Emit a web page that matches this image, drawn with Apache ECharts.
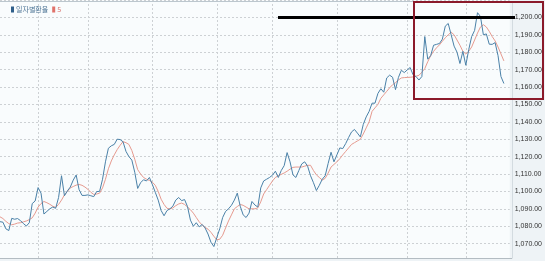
<!DOCTYPE html>
<html><head><meta charset="utf-8">
<script src="https://cdn.jsdelivr.net/npm/echarts@6/dist/echarts.min.js"></script>
<style>html,body{margin:0;padding:0;background:#eef3f6;}#c{width:545px;height:261px;}</style>
</head><body><div id="c"></div>
<script>
const SERIES_NAMES = ['일자별환율', '5'];
const rate = [1082.6,1082.3,1078.5,1077.5,1084.5,1084,1084.4,1083.2,1081.5,1080.1,
1082,1093,1094.5,1102.2,1099,1087,1088.5,1090,1091,1090.3,
1096.5,1109,1097.5,1100.3,1102.5,1106.5,1109.4,1101,1097.7,1097.7,
1098,1097.5,1097,1099.9,1100,1107,1117,1124.8,1126.2,1127,
1130,1129.8,1128.5,1123,1120,1118,1111,1101.7,1105,1106.7,
1106,1108,1104,1099.5,1095,1089,1086,1089,1090,1091.5,
1095,1096.5,1094.7,1095.3,1091.3,1083.5,1080,1082,1079.6,1081,
1079,1075.5,1070.8,1068.3,1073.5,1078.5,1085,1088.5,1090,1092,
1095,1099,1091.5,1086.5,1085,1087.5,1094.2,1092.2,1091,1102,
1106,1107,1108,1109.3,1111.6,1108,1112,1114.8,1122.3,1117,
1109.5,1108,1112,1115.8,1117,1114.5,1109,1105,1100.5,1103.5,
1107,1109,1116,1122.5,1117,1121,1125,1124.6,1127.5,1131,
1134.2,1135.6,1133.5,1131.3,1138.5,1142.8,1146,1150.7,1150.7,1156.3,
1159,1157,1165.2,1166.8,1165.6,1158.5,1165.5,1169.6,1168.3,1169.8,
1171.2,1167,1166,1164,1166,1189,1176,1178,1184,1184.5,
1185,1187.5,1195,1196.5,1190,1183.5,1180,1173.5,1180.5,1172.5,
1181.5,1189,1192.5,1202.7,1200.5,1190,1190.5,1184.6,1184.5,1185.5,
1178,1166,1162];
const ma5 = [1085.4,1084.4,1082.8,1081.5,1080.8,1081.2,1081.8,1082,1082.5,1083,
1083.8,1084.8,1087.5,1091,1093,1094.2,1093.5,1092.6,1091.5,1090.8,
1092.5,1095,1098,1100,1102,1102.8,1103.6,1104,1103.5,1102.5,
1101.2,1099.5,1098.3,1098.5,1099,1102,1107,1113,1117.5,1121,
1124,1126.5,1128.6,1128,1127,1123.5,1118.5,1112.5,1110,1108,
1107,1106.3,1105.3,1103.5,1100,1095.5,1092.5,1090.3,1089.9,1090.5,
1091.8,1092.8,1093.3,1092.5,1091,1089.5,1087.5,1085,1082.5,1080.7,
1079.3,1078.3,1076.5,1074.2,1072.2,1072.5,1074.8,1079,1083,1086.5,
1090,1091.3,1092.5,1092,1091,1090,1090,1090,1090.5,1094,
1098.5,1101,1103.5,1106,1108,1109,1109.8,1110.6,1111.6,1112.8,
1113.8,1114,1114,1114,1114.5,1115,1115,1112,1109.5,1108,
1106.5,1107.5,1110.5,1114,1115.5,1117,1118.8,1121,1123,1125,
1127,1128,1129,1130,1133,1136.5,1140,1146,1148,1150,
1153.5,1155.5,1157.5,1159.5,1161.3,1162.5,1164,1165.2,1165.4,1165.5,
1165.6,1165.8,1166.2,1166.7,1168.5,1170.6,1174.5,1178,1180.5,1182.5,
1184.2,1186.3,1188.3,1190,1191.5,1190,1187,1184,1180.5,1179,
1180.5,1183,1187,1191,1194.5,1195.8,1194.5,1192,1189,1186.5,
1183,1179,1175];
const SLOT_COUNT = 175;               // trading-day slots on the x axis
const MONTH_GRID_IDX = [13,30,52,74,93,115,139,159];
const Y_MIN = 1060, Y_MAX = 1210, Y_STEP = 10;
const REF_LEVEL = 1200;

const categories = Array.from({length: SLOT_COUNT}, (_, i) => String(i + 1));

const chart = echarts.init(document.getElementById('c'), null, {renderer: 'canvas'});
chart.setOption({
  animation: false,
  backgroundColor: '#eef3f6',
  grid: {left: 0, right: 33, top: -2.385, bottom: -12.385, show: true, backgroundColor: '#f9fcfd', borderWidth: 0},
  legend: {
    left: 6, top: 1, icon: 'rect', itemWidth: 3, itemHeight: 6, itemGap: 4,
    textStyle: {fontSize: 7, fontFamily: 'Noto Sans CJK KR', padding: [0,0,0,-3]},
    data: [
      {name: SERIES_NAMES[0], textStyle: {color: '#4f7596'}},
      {name: SERIES_NAMES[1], textStyle: {color: '#d9706a'}}
    ]
  },
  xAxis: {
    type: 'category', data: categories, boundaryGap: false,
    axisLine: {show: false}, axisTick: {show: false}, axisLabel: {show: false},
    splitLine: {show: true, interval: (idx) => MONTH_GRID_IDX.includes(idx),
      lineStyle: {color: '#cdd1d4', type: [2, 2], width: 1}}
  },
  yAxis: {
    type: 'value', position: 'right', min: Y_MIN, max: Y_MAX, interval: Y_STEP,
    axisLine: {show: false}, axisTick: {show: false},
    axisLabel: {show: true, margin: 5, fontSize: 7, color: '#333',
      fontFamily: 'Liberation Sans, Arial, sans-serif',
      showMinLabel: false, showMaxLabel: false,
      formatter: (v) => v.toLocaleString('en-US', {minimumFractionDigits: 2, maximumFractionDigits: 2})},
    splitLine: {show: true, lineStyle: {color: '#cdd1d4', type: [2, 2], width: 1}}
  },
  series: [
    {name: SERIES_NAMES[0], type: 'line', data: rate, showSymbol: false, symbol: 'none',
      lineStyle: {color: '#4a81a8', width: 1}, itemStyle: {color: '#2f5f8a'}, z: 3},
    {name: SERIES_NAMES[1], type: 'line', data: ma5, showSymbol: false, symbol: 'none',
      lineStyle: {color: '#e69a8f', width: 1}, itemStyle: {color: '#e0726a'}, z: 2}
  ]
});

// frame lines of the plot area and annotation overlays
const yRef = chart.convertToPixel({yAxisIndex: 0}, REF_LEVEL);
chart.setOption({
  graphic: [
    {type: 'rect', z: 90, silent: true, shape: {x: 0, y: 258.5, width: 545, height: 5}, style: {fill: '#eef3f6'}},
    {type: 'line', z: 91, shape: {x1: 0, y1: 1.5, x2: 512, y2: 1.5}, style: {stroke: '#bcc7ce', lineWidth: 1}},
    {type: 'line', z: 91, shape: {x1: 0, y1: 258.5, x2: 512, y2: 258.5}, style: {stroke: '#b3bcc2', lineWidth: 1}},
    {type: 'line', z: 91, shape: {x1: 512.5, y1: 1.5, x2: 512.5, y2: 258.5}, style: {stroke: '#d3dbe0', lineWidth: 1}},
    {type: 'line', z: 100, shape: {x1: 278, y1: yRef, x2: 515, y2: yRef}, style: {stroke: '#000', lineWidth: 3}},
    {type: 'rect', z: 100, shape: {x: 414, y: 2, width: 129, height: 97}, style: {fill: 'none', stroke: '#8b1a2a', lineWidth: 2}}
  ]
});
</script></body></html>
